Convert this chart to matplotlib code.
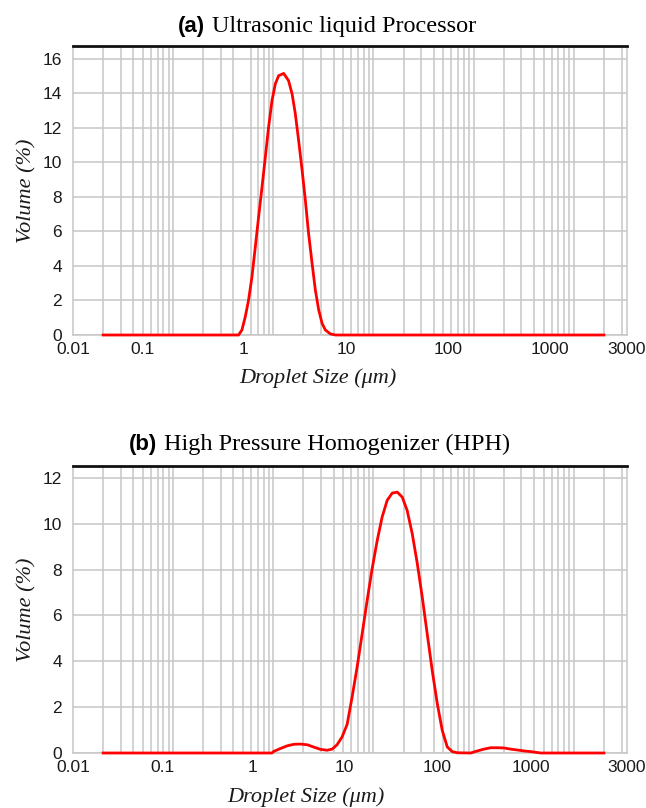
import numpy as np
import matplotlib
matplotlib.use('Agg')
import matplotlib.pyplot as plt
from matplotlib.ticker import FixedLocator, NullFormatter

# ---- data ----
size_a = [0.02, 0.45, 0.486, 0.525, 0.566, 0.612, 0.661, 0.713, 0.771, 0.832,
          0.897, 0.97, 1.047, 1.13, 1.27, 1.42, 1.54, 1.66, 1.79, 1.94,
          2.09, 2.25, 2.44, 2.63, 2.84, 3.07, 3.31, 3.72, 4.17, 2000]
vol_a = [0, 0, 0.29, 1.06, 2.02, 3.37, 5.1, 6.84, 8.57, 10.3,
         12.04, 13.58, 14.55, 15.03, 15.16, 14.74, 13.97, 12.81, 11.27, 9.54,
         7.8, 5.88, 4.14, 2.6, 1.45, 0.67, 0.29, 0.06, 0, 0]

size_b = [0.02, 0.97, 1.01, 1.17, 1.37, 1.60, 1.86, 2.18, 2.53, 2.95,
          3.44, 3.87, 4.33, 4.86, 5.46, 6.12, 6.87, 7.71, 8.65, 9.70,
          10.9, 12.2, 13.7, 15.4, 17.3, 19.4, 21.7, 24.4, 27.4, 30.7,
          34.4, 38.6, 43.4, 48.6, 54.6, 61.2, 68.7, 93.3, 109, 127,
          148, 173, 201, 234, 274, 319, 372, 417, 468, 2000]
vol_b = [0, 0, 0.07, 0.19, 0.31, 0.38, 0.39, 0.36, 0.26, 0.16,
         0.12, 0.17, 0.36, 0.7, 1.25, 2.44, 3.75, 5.20, 6.66, 8.04,
         9.27, 10.29, 11.02, 11.34, 11.38, 11.16, 10.58, 9.56, 8.26, 6.80,
         5.20, 3.60, 2.15, 0.99, 0.26, 0.06, 0.01, 0, 0.09, 0.17,
         0.23, 0.23, 0.22, 0.17, 0.13, 0.09, 0.06, 0.03, 0, 0]

xtick_labels = ['0.01', '0.1', '1', '10', '100', '1000', '3000']
# where the labels sit on the instrument's axis (they are offset in the figure)
xtick_pos_a = [0.01, 0.049, 0.50, 5.37, 56.2, 575, 3400]
xtick_pos_b = [0.01, 0.0776, 0.617, 5.13, 43.2, 372, 3400]

titles = [('(a)', 'Ultrasonic liquid Processor'),
          ('(b)', 'High Pressure Homogenizer (HPH)')]

grid_col = '#c6c6c6'
tick_font = ['Liberation Sans Narrow', 'Liberation Sans']

fig = plt.figure(figsize=(6.46, 8.08), dpi=100)
W, H = 646, 808

def px_ax(left, top, right, bottom):
    return [left / W, 1 - bottom / H, (right - left) / W, (bottom - top) / H]

ax_a = fig.add_axes(px_ax(73, 46, 627, 335))
ax_b = fig.add_axes(px_ax(73, 466, 627, 753))

minor_x = [m * 10.0 ** k for k in range(-2, 4) for m in range(1, 10)]

def style(ax, size, vol, ymax, ytop, xpos, xlab_x, xlab_y):
    ax.plot(size, vol, color='#ff0000', lw=2.0, solid_joinstyle='round',
            clip_on=False, zorder=5)
    ax.set_xscale('log')
    ax.set_xlim(0.01, 3400)
    ax.set_ylim(0, ytop)
    ax.xaxis.set_major_locator(FixedLocator(xpos))
    ax.set_xticklabels(xtick_labels)
    ax.xaxis.set_minor_locator(FixedLocator(minor_x))
    ax.xaxis.set_minor_formatter(NullFormatter())
    ax.set_yticks(np.arange(0, ymax + 1, 2))
    ax.grid(True, which='minor', axis='x', color=grid_col, lw=1.1)
    ax.grid(True, which='major', axis='y', color=grid_col, lw=1.1)
    ax.tick_params(which='both', length=0)
    ax.tick_params(axis='x', pad=5)
    ax.tick_params(axis='y', pad=8)
    for lab in ax.get_xticklabels() + ax.get_yticklabels():
        lab.set_family(tick_font)
        lab.set_fontsize(12.5)
        lab.set_color('#1a1a1a')
    for s in ['left', 'right', 'bottom']:
        ax.spines[s].set_color(grid_col)
        ax.spines[s].set_linewidth(1.1)
    ax.spines['top'].set_color('#111111')
    ax.spines['top'].set_linewidth(2.0)
    ax.set_axisbelow(True)
    ax.set_xlabel('Droplet Size (μm)', family='Liberation Serif', style='italic',
                  fontsize=16, color='#1a1a1a')
    ax.xaxis.set_label_coords(xlab_x, xlab_y)
    ax.set_ylabel('Volume (%)', family='Liberation Serif', style='italic',
                  fontsize=16, labelpad=4, color='#1a1a1a')

style(ax_a, size_a, vol_a, 16, 16.75, xtick_pos_a, 0.442, -0.115)
style(ax_b, size_b, vol_b, 12, 12.52, xtick_pos_b, 0.42, -0.118)

# titles: bold sans panel letter + serif text
for (letter, text), (xl, base) in zip(titles, [(205, 32), (157, 450)]):
    fig.text(xl / W, 1 - base / H, letter, ha='right', va='baseline',
             family='Liberation Sans', weight='bold', fontsize=16)
    fig.text((xl + 7) / W, 1 - base / H, text, ha='left', va='baseline',
             family='Liberation Serif', fontsize=17.5)

fig.savefig('out.png', dpi=100)
